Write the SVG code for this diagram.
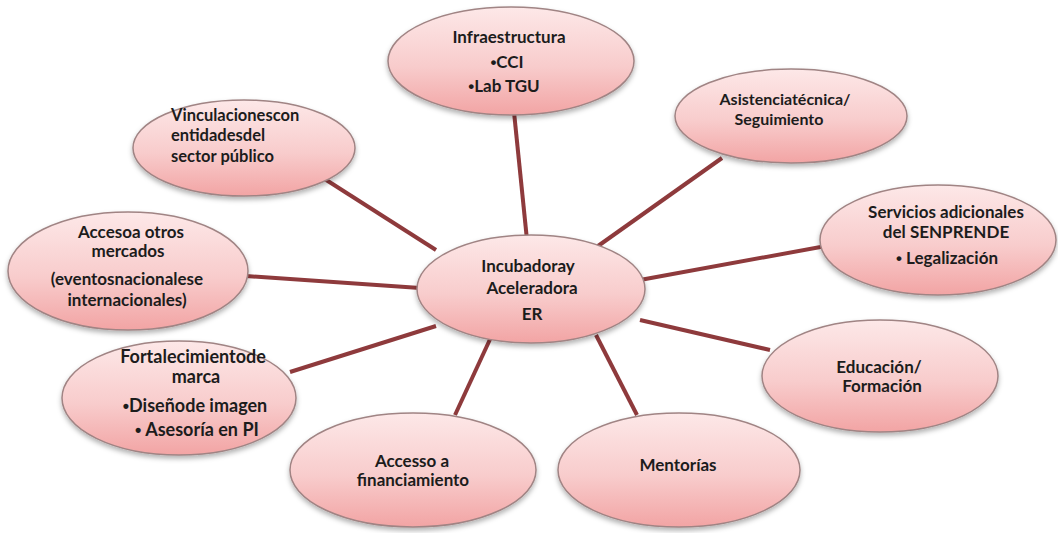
<svg xmlns="http://www.w3.org/2000/svg" width="1058" height="533" viewBox="0 0 1058 533">
<defs>
<linearGradient id="pink" x1="0" y1="0" x2="0" y2="1">
<stop offset="0" stop-color="#fde8e8"/>
<stop offset="0.55" stop-color="#f8cccc"/>
<stop offset="1" stop-color="#f2a4a4"/>
</linearGradient>
<filter id="sh" x="-10%" y="-10%" width="120%" height="130%">
<feDropShadow dx="0" dy="3" stdDeviation="2.5" flood-color="#000" flood-opacity="0.3"/>
</filter>
</defs>
<style>
.n ellipse{fill:url(#pink);stroke:#a08484;stroke-width:1.5;filter:url(#sh)}
.n text{font-family:Lato,"Liberation Sans",sans-serif;font-weight:700;font-size:17px;fill:#1c1c1c;text-anchor:middle}
.b{font-family:"Liberation Sans",sans-serif}
.c line{stroke:#8e3a3c;stroke-width:4;stroke-linecap:butt}
</style>
<rect width="1058" height="533" fill="#ffffff"/>
<g id="connectors" class="c">
<line x1="514" y1="112" x2="527" y2="240"/>
<line x1="320" y1="176" x2="436" y2="250"/>
<line x1="722" y1="158" x2="598" y2="246"/>
<line x1="826" y1="246" x2="640" y2="280"/>
<line x1="246" y1="276" x2="420" y2="288"/>
<line x1="290" y1="372" x2="436" y2="326"/>
<line x1="770" y1="350" x2="640" y2="320"/>
<line x1="455" y1="415" x2="492" y2="335"/>
<line x1="637" y1="415" x2="596" y2="335"/>
</g>
<g id="infraestructura" class="n">
<ellipse cx="511" cy="61" rx="123" ry="54"/>
<text x="509" y="43">Infraestructura</text>
<text x="507" y="68"><tspan class="b">•</tspan>CCI</text>
<text x="504" y="92"><tspan class="b">•</tspan>Lab TGU</text>
</g>
<g id="vinculaciones" class="n">
<ellipse cx="244" cy="148" rx="111" ry="48"/>
<text x="171" y="121" style="text-anchor:start;font-size:16.5px">Vinculacionescon</text>
<text x="171" y="141" style="text-anchor:start;font-size:16.5px">entidadesdel</text>
<text x="171" y="162" style="text-anchor:start;font-size:16.5px">sector público</text>
</g>
<g id="asistencia" class="n">
<ellipse cx="791" cy="116" rx="116" ry="47"/>
<text x="785" y="105" style="font-size:16px">Asistenciatécnica/</text>
<text x="779" y="125" style="font-size:16px">Seguimiento</text>
</g>
<g id="servicios" class="n">
<ellipse cx="938" cy="240" rx="118" ry="55"/>
<text x="946" y="218">Servicios adicionales</text>
<text x="946" y="238">del SENPRENDE</text>
<text x="947" y="264"><tspan class="b">•</tspan> Legalización</text>
</g>
<g id="mercados" class="n">
<ellipse cx="128" cy="271" rx="120" ry="59"/>
<text x="131" y="238">Accesoa otros</text>
<text x="128" y="257">mercados</text>
<text x="127" y="285">(eventosnacionalese</text>
<text x="127" y="306">internacionales)</text>
</g>
<g id="incubadora" class="n">
<ellipse cx="531" cy="289" rx="114" ry="54"/>
<text x="528" y="272">Incubadoray</text>
<text x="532" y="294">Aceleradora</text>
<text x="532" y="320">ER</text>
</g>
<g id="fortalecimiento" class="n">
<ellipse cx="179" cy="398" rx="117" ry="57"/>
<text x="193" y="363" style="font-size:18px">Fortalecimientode</text>
<text x="196" y="383" style="font-size:18px">marca</text>
<text x="195" y="412" style="font-size:18px"><tspan class="b">•</tspan>Diseñode imagen</text>
<text x="197" y="436" style="font-size:18px"><tspan class="b">•</tspan> Asesoría en PI</text>
</g>
<g id="educacion" class="n">
<ellipse cx="880" cy="376" rx="118" ry="56"/>
<text x="879" y="373">Educación/</text>
<text x="882" y="392">Formación</text>
</g>
<g id="financiamiento" class="n">
<ellipse cx="413" cy="470" rx="123" ry="57"/>
<text x="412" y="467">Accesso a</text>
<text x="413" y="486">financiamiento</text>
</g>
<g id="mentorias" class="n">
<ellipse cx="679" cy="470" rx="121" ry="57"/>
<text x="678" y="471">Mentorías</text>
</g>
</svg>
